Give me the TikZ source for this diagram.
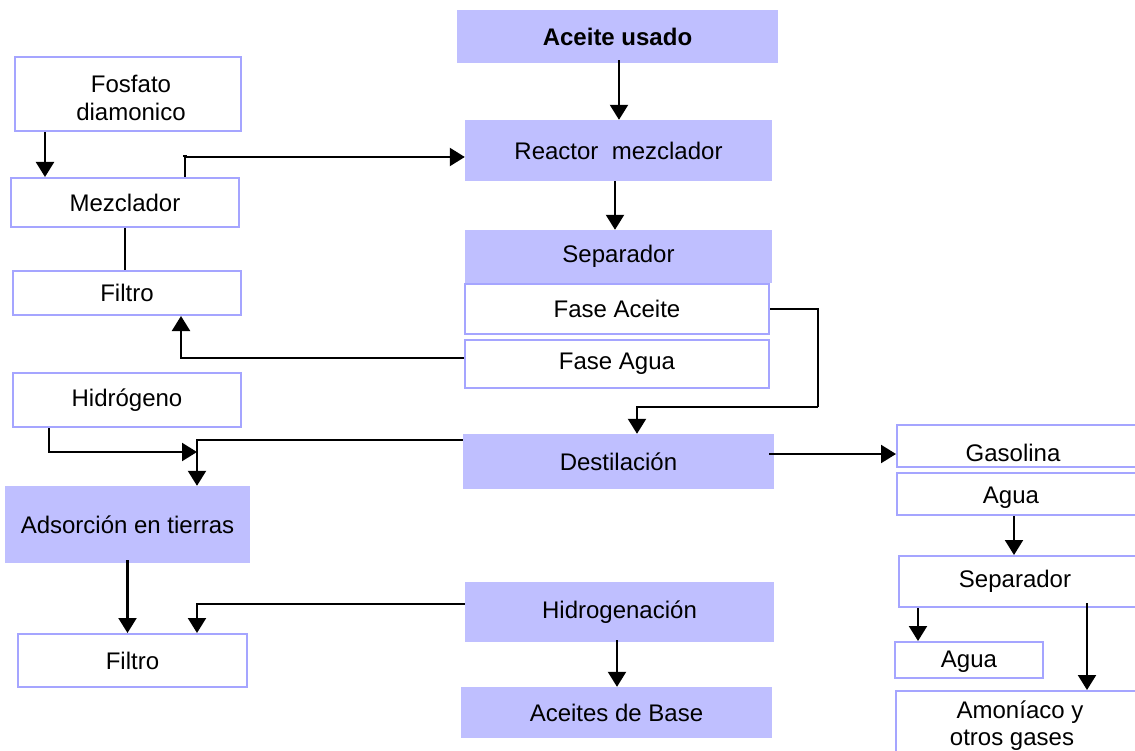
\documentclass[tikz,border=0pt]{standalone}
\usepackage{fontspec}
\setmainfont{Liberation Sans}
\usetikzlibrary{arrows.meta,calc}
\definecolor{lav}{RGB}{191,191,255}
\definecolor{lavline}{RGB}{165,165,255}
\begin{document}
\begin{tikzpicture}[x=1pt,y=-1pt,
  every node/.style={font=\fontsize{24}{28}\selectfont},
  fbox/.style={fill=lav, draw=none, inner sep=0pt},
  wbox/.style={fill=white, draw=lavline, line width=2pt, inner sep=0pt},
  conn/.style={line width=2.2pt, draw=black},
  arr/.style={conn, -{Triangle[length=15pt,width=18pt]}},
  lbl/.style={anchor=base, inner sep=0pt}]
\useasboundingbox (0,0) rectangle (1135,751);
% central column
\node[fbox, minimum width=321pt, minimum height=53pt] (aceite) at (617.5,36.5) {\bfseries Aceite usado};
\node[fbox, minimum width=307pt, minimum height=61pt] (reactor) at (618.5,150.5) {Reactor\ \ mezclador};
\node[fbox, minimum width=307pt, minimum height=53pt] (sep) at (618.5,256.5) {Separador};
\node[wbox, minimum width=304pt, minimum height=50pt] (faceite) at (617,309) {Fase Aceite};
\node[wbox, minimum width=304pt, minimum height=48pt] (fagua) at (617,364) {Fase Agua};
\node[fbox, minimum width=311pt, minimum height=55pt] (dest) at (618.5,461.5) {Destilación};
\node[fbox, minimum width=309pt, minimum height=60pt] (hidrog) at (619.5,612) {Hidrogenación};
\node[fbox, minimum width=311pt, minimum height=51pt] (bases) at (616.5,712.5) {Aceites de Base};
% left column
\node[wbox, minimum width=226pt, minimum height=74pt] (fosf) at (128,94) {};
\node[align=center, inner sep=0pt] (fosft) at (131,98) {Fosfato\\diamonico};
\node[wbox, minimum width=228pt, minimum height=49pt] (mez) at (125,202.5) {Mezclador};
\node[wbox, minimum width=228pt, minimum height=44pt] (filtro1) at (127,293) {Filtro};
\node[wbox, minimum width=228pt, minimum height=54pt] (hidro) at (127,400) {Hidrógeno};
\node[fbox, minimum width=245pt, minimum height=77pt] (ads) at (127.5,524.5) {Adsorción en tierras};
\node[wbox, minimum width=229pt, minimum height=53pt] (filtro2) at (132.5,660.5) {Filtro};
% right column (boxes run past the right edge)
\node[wbox, minimum width=250pt, minimum height=42pt] (gas) at (1022,446) {};
\node[lbl] (gast) at (1013,461) {Gasolina};
\node[wbox, minimum width=250pt, minimum height=42pt] (agua1) at (1022,494) {};
\node[lbl] (agua1t) at (1011,503) {Agua};
\node[wbox, minimum width=248pt, minimum height=51pt] (sep2) at (1023,581.5) {};
\node[lbl] (sep2t) at (1015,587) {Separador};
\node[wbox, minimum width=148pt, minimum height=36pt] (agua2) at (969,660) {};
\node[lbl] (agua2t) at (969,667) {Agua};
\node[wbox, minimum width=250pt, minimum height=80pt] (amon) at (1021,731) {};
\node[lbl] (amont1) at (1020,718) {Amoníaco y};
\node[lbl] (amont2) at (1012,745) {otros gases};
% connector end points
\coordinate (c1) at ($(aceite.south)+(1.5,-3)$);
\coordinate (c2) at ($(reactor.south)+(-3.5,0)$);
\coordinate (c3) at ($(mez.north)+(60,0)$);
\coordinate (c3b) at ($(reactor.west)+(0,6.5)$);
\coordinate (c4) at ($(fagua.west)+(0,-6)$);
\coordinate (c4b) at ($(filtro1.south)+(54,0)$);
\coordinate (b1) at (818,407);
\coordinate (c5) at ($(dest.north)+(18.5,0)$);
\coordinate (c6) at ($(dest.east)+(-5,-7.5)$);
\coordinate (c7) at ($(fosf.south)+(-83,0)$);
\coordinate (c8) at ($(hidro.south)+(-78,0)$);
\coordinate (j1) at (197,452);
\coordinate (c9) at ($(dest.west)+(0,-21.5)$);
\coordinate (c9b) at ($(ads.north)+(69.5,0)$);
\coordinate (c10) at ($(ads.south)+(0,-3)$);
\coordinate (c11) at ($(hidrog.west)+(0,-8)$);
\coordinate (c11b) at ($(filtro2.north)+(64.5,0)$);
\coordinate (c12) at ($(hidrog.south)+(-2.5,-2)$);
\coordinate (c13) at ($(agua1.south west)+(118,0)$);
\coordinate (c14) at ($(sep2.south west)+(20,0)$);
\coordinate (c15) at ($(sep2.south west)+(189,-5)$);
% connectors
\draw[arr] (c1) -- (c1 |- reactor.north);
\draw[arr] (c2) -- (c2 |- sep.north);
\draw[arr] (c3) |- (c3b);
\draw[conn] ($(c3)+(-2,-21)$) -- ++(4,0);
\draw[conn] (mez.south) -- (mez.south |- filtro1.north);
\draw[arr] (c4) -| (c4b);
\draw[conn] (faceite.east) -| (b1);
\draw[arr] (b1) -| (c5);
\draw[arr] (c6) -- (c6 -| gas.west);
\draw[arr] (c7) -- (c7 |- mez.north);
\draw[arr] (c8) |- (j1);
\draw[arr] (c9) -| (c9b);
\draw[arr] (c10) -- (c10 |- filtro2.north);
\draw[arr] (c11) -| (c11b);
\draw[arr] (c12) -- (c12 |- bases.north);
\draw[arr] (c13) -- (c13 |- sep2.north);
\draw[arr] (c14) -- (c14 |- agua2.north);
\draw[arr] (c15) -- (c15 |- amon.north);
\end{tikzpicture}
\end{document}
